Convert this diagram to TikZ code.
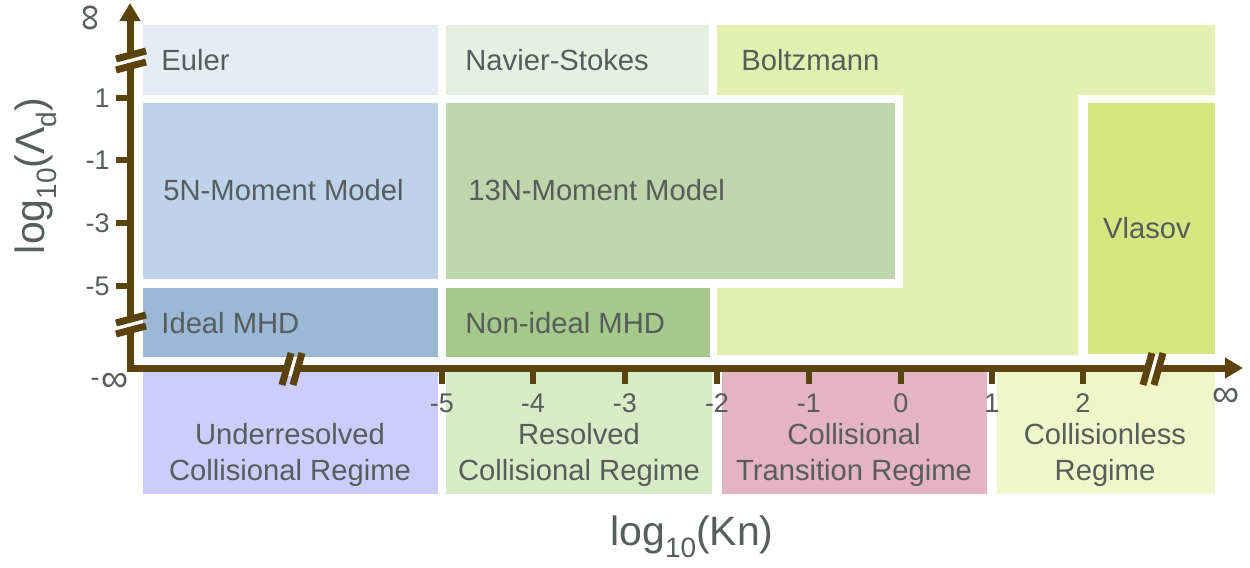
\documentclass[tikz,border=0pt]{standalone}
\usepackage{fontspec}
\setmainfont{Liberation Sans}
\usetikzlibrary{arrows.meta}
\definecolor{axisc}{HTML}{5A430C}
\definecolor{txt}{HTML}{575C5C}
\definecolor{cEuler}{HTML}{E4ECF6}
\definecolor{cNS}{HTML}{E7EFE1}
\definecolor{cBoltz}{HTML}{E3EFAE}
\definecolor{cFiveN}{HTML}{BED2EA}
\definecolor{cThirteenN}{HTML}{BFD5AB}
\definecolor{cIdeal}{HTML}{9BB8D7}
\definecolor{cNonIdeal}{HTML}{A4C98A}
\definecolor{cVlasov}{HTML}{D6E680}
\definecolor{cUnder}{HTML}{CCCDFA}
\definecolor{cResolved}{HTML}{D8EBC7}
\definecolor{cTrans}{HTML}{E5B4C4}
\definecolor{cLess}{HTML}{EFF6C9}
\newcommand{\mysub}[2]{\raisebox{-0.3em}{\fontsize{#2}{#2}\selectfont #1}}
\begin{document}
\begin{tikzpicture}[x=0.5pt,y=-0.5pt,
  lbl/.style={font=\fontsize{14.6}{18}\selectfont, text=txt, inner sep=0pt},
  ticklbl/.style={font=\fontsize{13.5}{15}\selectfont, text=txt, inner sep=0pt},
  inflbl/.style={font=\fontsize{19}{20}\selectfont, text=txt, inner sep=0pt},
  axistitle/.style={font=\fontsize{20.5}{24}\selectfont, text=txt, inner sep=0pt},
  axisline/.style={draw=axisc, line width=3.5pt, line join=miter},
  tickline/.style={draw=axisc, line width=3pt},
  slash/.style={draw=axisc, line width=3.5pt}]
\useasboundingbox (0,0) rectangle (1250,568);
% upper region boxes
\fill[cEuler] (143,25) rectangle (438,95);
\fill[cNS] (446,25) rectangle (709,95);
\fill[cBoltz] (717,25) -- (1215,25) -- (1215,95) -- (1078,95) -- (1078,355) -- (717,355) -- (717,288) -- (903,288) -- (903,95) -- (717,95) -- cycle;
\fill[cFiveN] (143,103) rectangle (438,279);
\fill[cThirteenN] (446,103) rectangle (895,279);
\fill[cIdeal] (143,288) rectangle (438,357);
\fill[cNonIdeal] (446,288) rectangle (710,357);
\fill[cVlasov] (1088,103) rectangle (1215,354);
% lower regime boxes
\fill[cUnder] (143,372) rectangle (438,494);
\fill[cResolved] (446,372) rectangle (712,494);
\fill[cTrans] (722,372) rectangle (987,494);
\fill[cLess] (997,372) rectangle (1215,494);
% labels
\node[lbl, anchor=west] (euler) at (161,60) {Euler};
\node[lbl, anchor=west] (ns) at (465,60) {Navier-Stokes};
\node[lbl, anchor=west] (boltz) at (741,60) {Boltzmann};
\node[lbl, anchor=west] (fiven) at (163,190) {5N-Moment Model};
\node[lbl, anchor=west] (thirteenn) at (468,190) {13N-Moment Model};
\node[lbl] (vlasov) at (1147,228) {Vlasov};
\node[lbl, anchor=west] (ideal) at (161,323) {Ideal MHD};
\node[lbl, anchor=west] (nonideal) at (465,323) {Non-ideal MHD};
\node[lbl, align=center] (under) at (290,455) {Underresolved\\Collisional Regime};
\node[lbl, align=center] (resolved) at (579,455) {Resolved\\Collisional Regime};
\node[lbl, align=center] (trans) at (854,455) {Collisional\\Transition Regime};
\node[lbl, align=center] (less) at (1105,455) {Collisionless\\Regime};
% axes
\draw[axisline, {Triangle[width=10pt,length=9pt]}-{Triangle[width=10pt,length=9pt]}] (130,3) -- (130,368) -- (1243,368);
% y ticks
\foreach \yy/\t [count=\i] in {98/1,160/-1,223/-3,286/-5}{
  \draw[tickline] (116,\yy) -- (130,\yy);
  \node[ticklbl, anchor=east] (yt\i) at (110,\yy) {\t};
}
% x ticks
\foreach \xx/\t [count=\i] in {442/-5,533/-4,625/-3,717/-2,809/-1,901/0,992/1,1083/2}{
  \draw[tickline] (\xx,368) -- (\xx,384);
  \node[ticklbl] (xt\i) at (\xx,403) {\t};
}
% infinity labels
\node[inflbl, rotate=90] (yinf) at (92,18) {∞};
\node[ticklbl, anchor=east] (yminf) at (100,382) {-};
\node[inflbl, anchor=west] (yminfs) at (101,382) {∞};
\node[inflbl] (xinf) at (1226,397) {∞};
% y-axis breaks
\foreach \c in {59,323}{
  \fill[white] (123,\c-3) -- (137,\c-7) -- (137,\c+5) -- (123,\c+9) -- cycle;
  \draw[slash] (116,\c+0) -- (146,\c-8);
  \draw[slash] (116,\c+11) -- (146,\c+3);
}
% x-axis breaks
\foreach \c in {287,1148}{
  \fill[white] (\c+2,360) -- (\c+9,360) -- (\c+6,376) -- (\c-1,376) -- cycle;
  \draw[slash] (\c-5,385) -- (\c+4,353);
  \draw[slash] (\c+6,385) -- (\c+15,353);
}
% axis titles
\node[axistitle] (xtitle) at (692,537) {log\mysub{10}{14}(Kn)};
\node[axistitle, rotate=90] (ytitle) at (36,176) {log\mysub{10}{14}(Λ\mysub{d}{14})};
\end{tikzpicture}
\end{document}
